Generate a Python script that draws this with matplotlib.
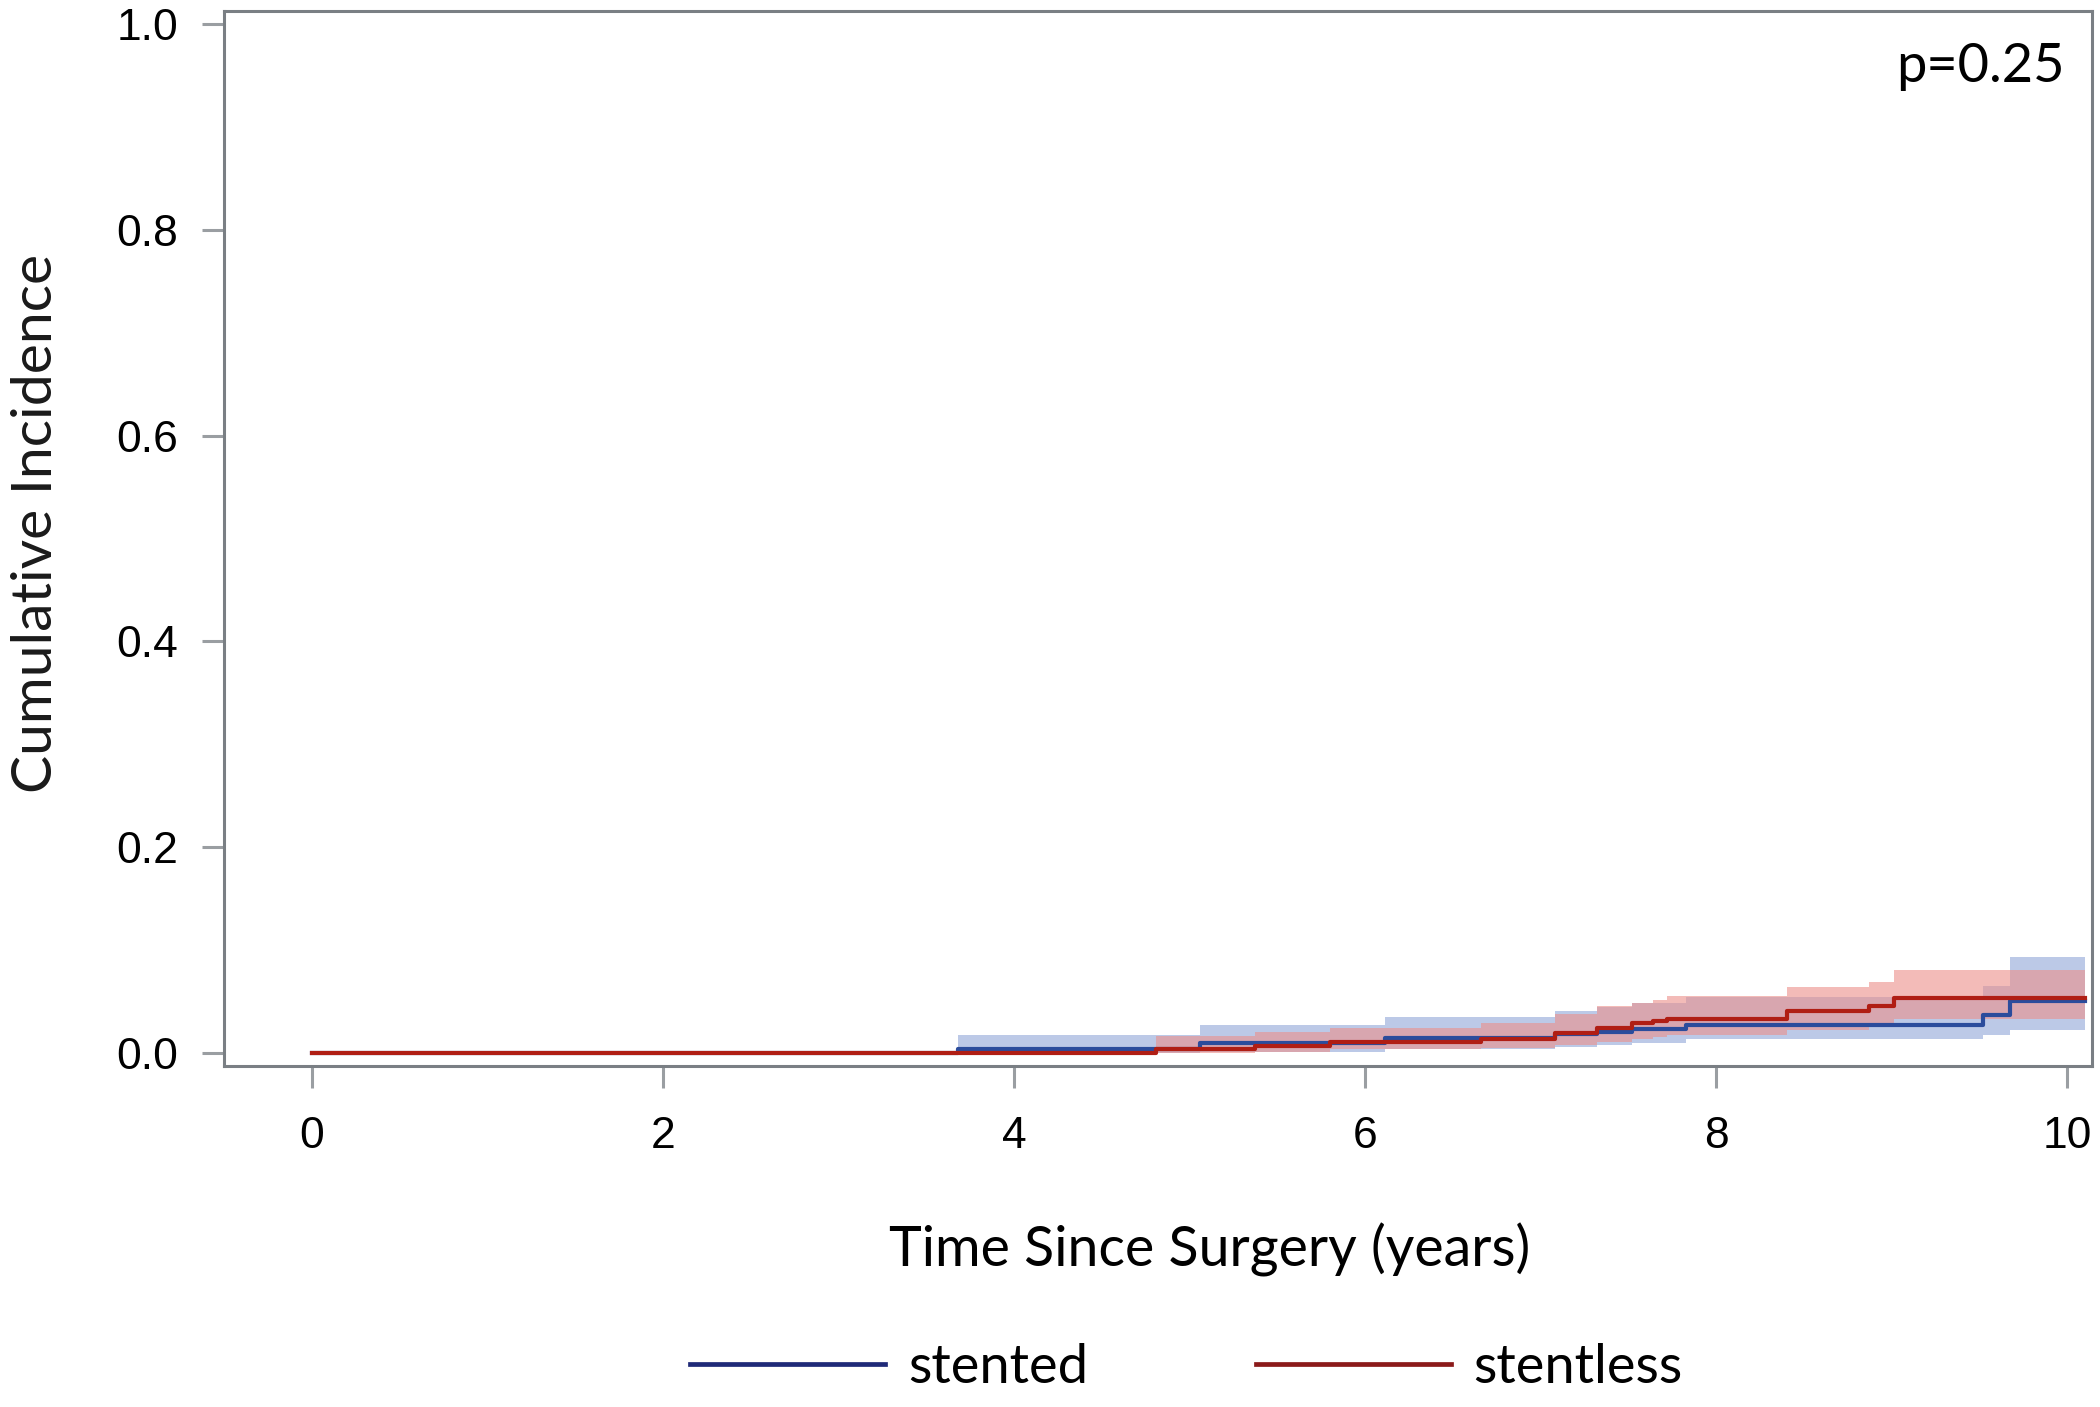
import numpy as np
import matplotlib.pyplot as plt

# cumulative incidence (step functions)
t_stented = [0, 3.68, 5.06, 6.11, 7.08, 7.32, 7.52, 7.83, 9.52, 9.67, 10.1]
ci_stented = [0, 0.003, 0.009, 0.014, 0.018, 0.020, 0.023, 0.027, 0.037, 0.050, 0.050]
hi_stented = [0, 0.017, 0.027, 0.035, 0.040, 0.044, 0.048, 0.054, 0.065, 0.093, 0.093]
lo_stented = [0, 0, 0.001, 0.003, 0.005, 0.007, 0.009, 0.013, 0.017, 0.022, 0.022]

t_stentless = [0, 4.81, 5.37, 5.80, 6.66, 7.08, 7.32, 7.52, 7.64, 7.72, 8.40, 8.87, 9.01, 10.1]
ci_stentless = [0, 0.003, 0.006, 0.010, 0.013, 0.019, 0.024, 0.029, 0.031, 0.033, 0.040, 0.045, 0.053, 0.053]
hi_stentless = [0, 0.016, 0.020, 0.024, 0.029, 0.038, 0.045, 0.048, 0.051, 0.055, 0.064, 0.069, 0.080, 0.080]
lo_stentless = [0, 0, 0.001, 0.003, 0.004, 0.007, 0.010, 0.013, 0.015, 0.017, 0.022, 0.026, 0.033, 0.033]

x_ticks = [0, 2, 4, 6, 8, 10]
y_ticks = [0.0, 0.2, 0.4, 0.6, 0.8, 1.0]
p_text = "p=0.25"

lab_font = "Lato"
tick_font = "Liberation Sans"

fig = plt.figure(figsize=(21, 14.07), dpi=100)
ax = fig.add_axes([0.1067, 0.2424, 0.8895, 0.7498])

ax.fill_between(t_stented, lo_stented, hi_stented, step='post',
                color='#98addb', alpha=0.65, lw=0)
ax.fill_between(t_stentless, lo_stentless, hi_stentless, step='post',
                color='#ec8f8a', alpha=0.6, lw=0)
ax.step(t_stented, ci_stented, where='post', c='#2b4c9c', lw=3)
ax.step(t_stentless, ci_stentless, where='post', c='#b01e14', lw=3)

ax.set_xlim(-0.5, 10.14)
ax.set_ylim(-0.013, 1.013)
ax.set_xticks(x_ticks)
ax.set_yticks(y_ticks)
ax.set_yticklabels([f"{v:.1f}" for v in y_ticks])

for s in ax.spines.values():
    s.set_color('#7a7f84')
    s.set_linewidth(2.2)
ax.tick_params(axis='both', length=16, width=2.2, color='#9a9ea2',
               labelsize=32, labelcolor='black')
ax.tick_params(axis='y', pad=17)
ax.tick_params(axis='x', pad=20)
for lab in ax.get_xticklabels() + ax.get_yticklabels():
    lab.set_family(tick_font)

ax.text(0.9855, 0.933, p_text, transform=ax.transAxes, ha='right', va='baseline',
        fontsize=39, family=lab_font)

fig.text(0.576, 0.1, "Time Since Surgery (years)", ha='center', va='baseline',
         fontsize=40, family=lab_font)
fig.text(0.0175, 0.628, "Cumulative Incidence", rotation=90, ha='center',
         va='center', fontsize=41, family=lab_font, color='#1a1a1a')

h1, = ax.plot([], [], c='#1f2a78', lw=3.4, label='stented')
h2, = ax.plot([], [], c='#8b1a1a', lw=3.4, label='stentless')
fig.legend(handles=[h1, h2], loc='center', bbox_to_anchor=(0.565, 0.028),
           ncol=2, frameon=False, handlelength=3.6, handletextpad=0.42,
           columnspacing=3.1, prop={'family': lab_font, 'size': 39})

fig.savefig('out.png', dpi=100)
